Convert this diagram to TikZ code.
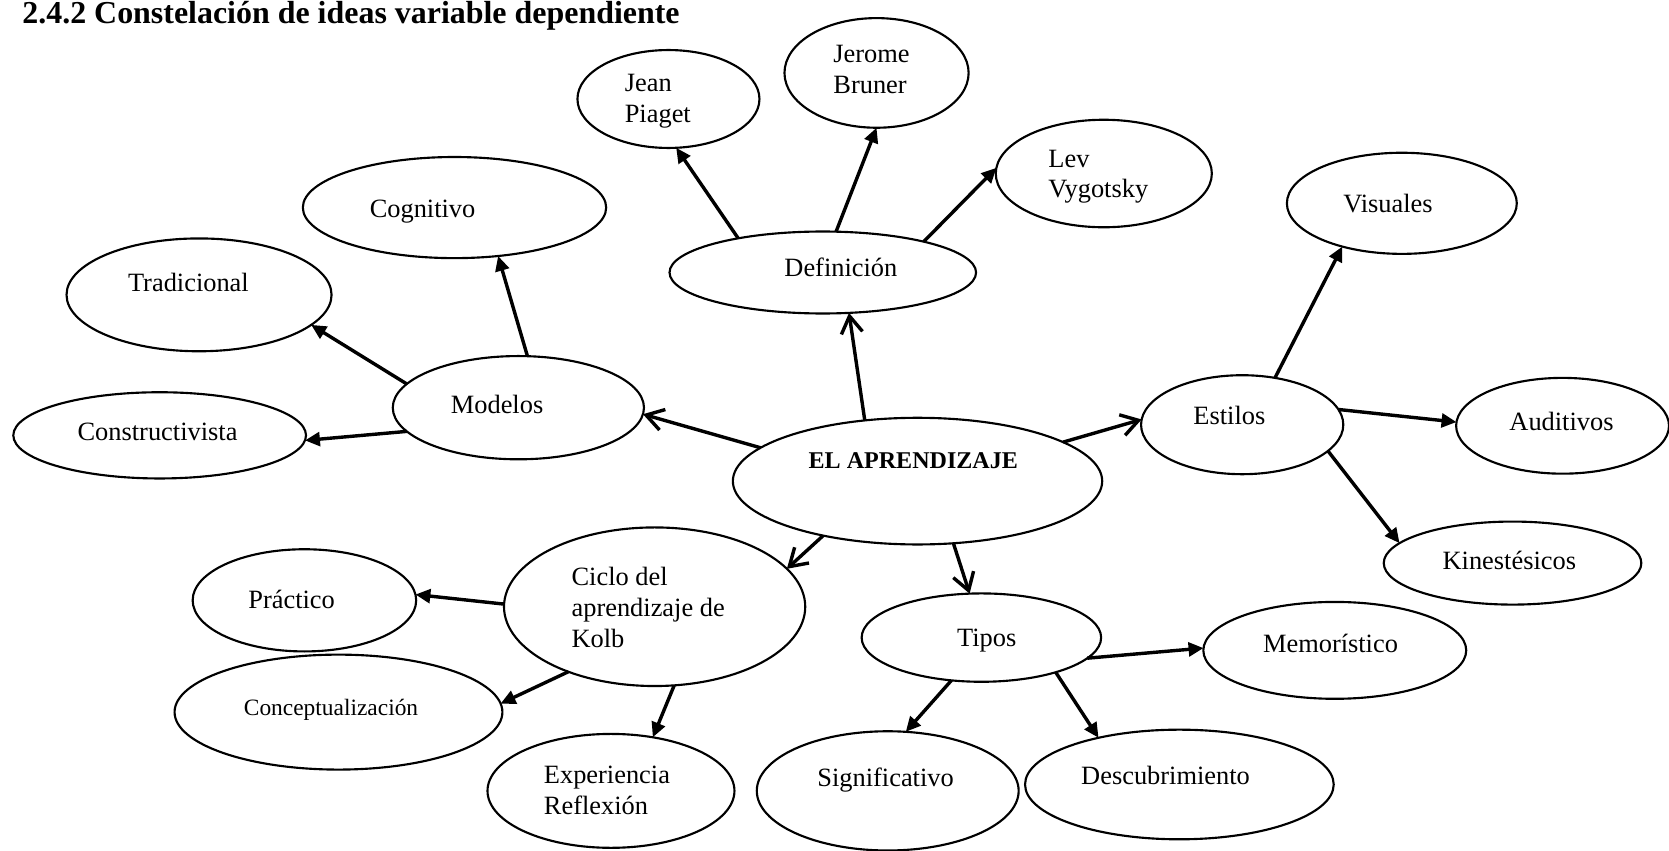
\documentclass[tikz,border=0pt]{standalone}
\usepackage{fontspec}
\setmainfont{Liberation Serif}
\usetikzlibrary{shapes.geometric,arrows.meta}
\tikzset{
  el/.style n args={2}{ellipse, draw, line width=1pt, inner sep=0pt, outer sep=0pt,
     minimum width=#1*0.5pt, minimum height=#2*0.5pt},
  txt/.style={inner sep=0pt, outer sep=0pt, font=\fontsize{12.4}{14.5}\selectfont, align=left},
  small/.style={inner sep=0pt, outer sep=0pt, font=\fontsize{11}{13}\selectfont},
  openarr/.style={line width=1.6pt, -{Straight Barb[length=8pt,width=10pt]}},
  solidarr/.style={line width=1.6pt, -{Triangle[length=7pt,width=6.5pt]}},
}
\begin{document}
\begin{tikzpicture}[x=0.5pt,y=-0.5pt]
\useasboundingbox (0,0) rectangle (1568,799);
\node[txt, anchor=base west, font=\fontsize{15}{17}\selectfont\bfseries] (title) at (21,22) {2.4.2 Constelación de ideas variable dependiente};

% ellipses
\node[el={347}{119}] (apr) at (862,452) {};
\node[el={236}{97}] (mod) at (487,383) {};
\node[el={285}{95}] (cog) at (427,195) {};
\node[el={249}{106}] (tra) at (187,277) {};
\node[el={275}{81}] (con) at (150,409) {};
\node[el={288}{77}] (def) at (773,256) {};
\node[el={171}{92}] (jea) at (628,93) {};
\node[el={173}{103}] (jer) at (823.5,68.5) {};
\node[el={203}{101}] (lev) at (1037,163) {};
\node[el={190}{93}] (est) at (1167,399) {};
\node[el={216}{95}] (vis) at (1317,191) {};
\node[el={200}{90}] (aud) at (1468,400) {};
\node[el={242}{78}] (kin) at (1421,529) {};
\node[el={283}{149}] (cic) at (615,570) {};
\node[el={210}{96}] (pra) at (286,564) {};
\node[el={308}{108}] (cpt) at (318,669) {};
\node[el={232}{107}] (exp) at (574,743) {};
\node[el={225}{83}] (tip) at (922,599) {};
\node[el={247}{91}] (mem) at (1254,611) {};
\node[el={246}{112}] (sig) at (834,743) {};
\node[el={290}{103}] (des) at (1108,737) {};

% texts
\node[txt, anchor=base, font=\fontsize{11.3}{13}\selectfont\bfseries] (taprt) at (858,440) {EL APRENDIZAJE};
\node[txt, anchor=base] (tmod) at (467,388) {Modelos};
\node[txt, anchor=base] (tcog) at (397,204) {Cognitivo};
\node[txt, anchor=base] (ttra) at (177,274) {Tradicional};
\node[txt, anchor=base] (tcon) at (148,414) {Constructivista};
\node[txt, anchor=base] (tdef) at (790,260) {Definición};
\node[txt, anchor=base west] (tjea) at (587,115) {Jean\\Piaget};
\node[txt, anchor=base west] (tjer) at (783,88) {Jerome\\Bruner};
\node[txt, anchor=base west] (tlev) at (985,186) {Lev\\Vygotsky};
\node[txt, anchor=base] (test) at (1155,399) {Estilos};
\node[txt, anchor=base] (tvis) at (1304,200) {Visuales};
\node[txt, anchor=base] (taud) at (1467,404) {Auditivos};
\node[txt, anchor=base] (tkin) at (1418,535) {Kinestésicos};
\node[txt, anchor=base west] (tcic) at (537,608) {Ciclo del\\aprendizaje de\\Kolb};
\node[txt, anchor=base] (tpra) at (274,572) {Práctico};
\node[small, anchor=base] (tcpt) at (311,672) {Conceptualización};
\node[txt, anchor=base west] (texp) at (511,765) {Experiencia\\Reflexión};
\node[txt, anchor=base] (ttip) at (927,607) {Tipos};
\node[txt, anchor=base] (tmem) at (1250,613) {Memorístico};
\node[txt, anchor=base] (tsig) at (832,739) {Significativo};
\node[txt, anchor=base] (tdes) at (1095,737) {Descubrimiento};

% arrows from center
\draw[openarr] (apr.168) -- (mod.-3);
\draw[openarr] (apr.131) -- (def.-57);
\draw[openarr] (apr.15) -- (est.177);
\draw[openarr] (apr.210) -- (cic.16);
\draw[openarr] (apr.-60) -- (tip.105);

% Modelos
\draw[solidarr] (mod.80) -- (cog.-48);
\draw[solidarr] (mod.168) -- (tra.-15);
\draw[solidarr] (mod.192) -- (con.-2);

% Definicion
\draw[solidarr] (def.158) -- (jea.-81);
\draw[solidarr] (def.72) -- (jer.-90);
\draw[solidarr] (def.17) -- (lev.177);

% Estilos
\draw[solidarr] (est.55) -- (vis.216);
\draw[solidarr] (est.9) -- (aud.178);
\draw[solidarr] (est.-17) -- (kin.170);

% Ciclo
\draw[solidarr] (cic.179) -- (pra.3);
\draw[solidarr] (cic.217) -- (cpt.3);
\draw[solidarr] (cic.-76) -- (exp.52);

% Tipos
\draw[solidarr] (tip.-11) -- (mem.179);
\draw[solidarr] (tip.-125) -- (sig.73);
\draw[solidarr] (tip.-25) -- (des.150);
\end{tikzpicture}
\end{document}
